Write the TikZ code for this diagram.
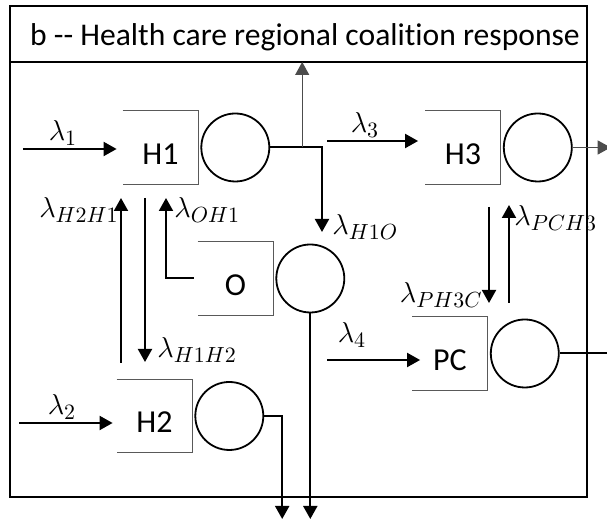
\documentclass[tikz,border=0pt]{standalone}
\usepackage{fontspec}
\setmainfont{Carlito}[Ligatures=NoCommon]
\usetikzlibrary{arrows.meta,positioning}

\begin{document}
\begin{tikzpicture}[x=0.5pt,y=-0.5pt,
    frame/.style={line width=1.2pt},
    queue/.style={inner sep=0pt,minimum width=37.5pt,minimum height=36.5pt,
      text height=17pt,text depth=0pt,font=\fontsize{16}{19}\selectfont},
    server/.style={draw,circle,line width=0.9pt,inner sep=0pt,minimum size=34pt},
    bracket/.style={line width=0.5pt,draw=black!65},
    flow/.style={line width=1pt,-{Triangle[length=6.5pt,width=7pt]}},
    thinflow/.style={line width=0.6pt,draw=black!70,fill=black!70,
      -{Triangle[length=6.5pt,width=7pt]}},
    rate/.style={inner sep=0pt,font=\fontsize{15}{18}\selectfont}]
    \useasboundingbox (0,0) rectangle (607,522);
    % frame and title
    \coordinate (fnw) at (10,6);
    \coordinate (fse) at (587,497);
    \coordinate (bar) at (10,62);
    \draw[frame] (fnw) rectangle (fse);
    \draw[frame] (bar) -- (bar -| fse);
    \node[inner sep=0pt,font=\fontsize{15.8}{18}\selectfont] (title) at (305,37)
      {b -{}- Health care regional coalition response};
    % queues and servers
    \node[queue] (H1) at (160.5,147.5) {H1};
    \node[queue] (H3) at (463,147.5) {H3};
    \node[queue] (O) at (235.5,278.5) {O};
    \node[queue] (PC) at (450,353.5) {PC};
    \node[queue] (H2) at (154.5,416) {H2};
    \foreach \q in {H1,H3,O,PC,H2} {
        \node[server,right=1pt of \q] (\q c) {};
        \draw[bracket] (\q.north west) -- (\q.north east) -- (\q.south east) -- (\q.south west);
    }
    % external arrivals
    \coordinate (in1) at (23,149);
    \coordinate (in2) at (19,423);
    \coordinate (in3) at (327,141);
    \coordinate (in4) at (327,360);
    \draw[flow] (in1) -- ([xshift=-3pt]in1 -| H1.west);
    \draw[flow] (in2) -- ([xshift=-2pt]in2 -| H2.west);
    \draw[flow] (in3) -- ([xshift=-3.5pt]in3 -| H3.west);
    \draw[flow] (in4) -- ([xshift=4pt]in4 -| PC.west);
    \node[rate] (l1) at (63,133) {$\lambda_1$};
    \node[rate] (l2) at (62,407) {$\lambda_2$};
    \node[rate] (l3) at (365,125) {$\lambda_3$};
    \node[rate] (l4) at (352,335) {$\lambda_4$};
    % transfers
    \coordinate (h1o) at (322,232);
    \draw[flow] (H1c.east) -| (h1o);
    \draw[thinflow] ([xshift=16pt]H1c.east) -- ([xshift=16pt]H1c.east |- bar);
    \coordinate (h21a) at (121,363);
    \coordinate (h21b) at (121,198);
    \draw[flow] (h21a) -- (h21b);
    \coordinate (h12a) at (145,198);
    \coordinate (h12b) at (145,362);
    \draw[flow] (h12a) -- (h12b);
    \coordinate (oh1) at (166,198);
    \draw[flow] ([xshift=-2pt]O.west) -| (oh1);
    \coordinate (ph3a) at (489,207);
    \coordinate (ph3b) at (489,303);
    \draw[flow] (ph3a) -- (ph3b);
    \coordinate (pch3a) at (509,303);
    \coordinate (pch3b) at (509,205);
    \draw[flow] (pch3a) -- (pch3b);
    \node[rate,anchor=east] (lh2h1) at (119,210) {$\lambda_{H2H1}$};
    \node[rate,anchor=west] (loh1) at (174,210) {$\lambda_{OH1}$};
    \node[rate,anchor=west] (lh1h2) at (157,350) {$\lambda_{H1H2}$};
    \node[rate,anchor=west] (lh1o) at (332,227) {$\lambda_{H1O}$};
    \node[rate,anchor=east] (lph3c) at (483,295) {$\lambda_{PH3C}$};
    \node[rate,anchor=west] (lpch3) at (514,218) {$\lambda_{PCH3}$};
    % departures
    \coordinate (exit) at (0,519);
    \draw[flow] (Oc.south) -- (Oc.south |- exit);
    \draw[flow] (H2c.east) -| ([xshift=9pt]H2c.east |- exit);
    \draw[thinflow] (H3c.east) -- ++(38,0);
    \draw[flow] (PCc.east) -- ++(64,0);
\end{tikzpicture}
\end{document}
